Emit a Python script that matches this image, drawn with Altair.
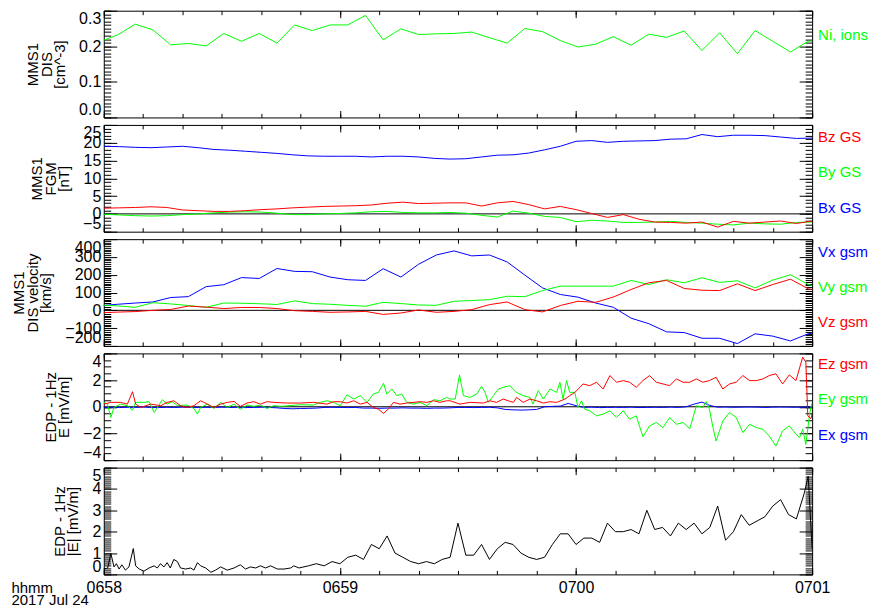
import altair as alt
import pandas as pd

# ---------------- data (seconds after 06:58:00 UT, 2017 Jul 24) ----------------
X_DOMAIN = [0, 180]
X_TICK_SECONDS = [0, 60, 120, 180]
X_TICK_LABELS = ["0658", "0659", "0700", "0701"]
X_TITLE = ["hhmm", "2017 Jul 24"]

# FPI / DIS (4.5 s cadence)
T_FPI = [-1.0, 3.5, 8.0, 12.5, 17.0, 21.5, 26.0, 30.5, 35.0, 39.5, 44.0, 48.5, 53.0, 57.5,
         62.0, 66.5, 71.0, 75.5, 80.0, 84.5, 89.0, 93.5, 98.0, 102.5, 107.0, 111.5, 116.0,
         120.5, 125.0, 129.5, 134.0, 138.5, 143.0, 147.5, 152.0, 156.5, 161.0, 165.5, 170.0,
         174.5, 179.0, 183.5]
NI = [0.213, 0.232, 0.262, 0.246, 0.204, 0.208, 0.201, 0.236, 0.214, 0.236, 0.209, 0.260,
      0.244, 0.260, 0.260, 0.287, 0.218, 0.249, 0.233, 0.235, 0.236, 0.240, 0.224, 0.209,
      0.250, 0.241, 0.216, 0.198, 0.206, 0.227, 0.203, 0.234, 0.225, 0.243, 0.188, 0.238,
      0.179, 0.244, 0.214, 0.184, 0.214, 0.216]
VX = [26, 34, 41, 47, 72, 77, 133, 144, 184, 179, 235, 219, 217, 187, 172, 168, 234, 187,
      259, 311, 334, 306, 311, 272, 198, 126, 89, 74, 41, 17, -44, -75, -121, -125, -157,
      -157, -187, -132, -145, -172, -132, -115]
VY = [30, 25, 17, 43, 36, 27, 17, 41, 40, 37, 33, 53, 38, 34, 28, 23, 45, 38, 30, 28, 51,
      55, 60, 79, 77, 111, 136, 136, 136, 136, 168, 145, 172, 155, 183, 157, 166, 126, 170,
      200, 145, 120]
VZ = [-14, -10, -7, 0, 5, 24, 18, 10, 16, 16, 10, -2, -6, -11, -9, -6, -23, -15, 2, -11,
      -6, 4, 32, 47, 4, -9, 27, 51, 45, 75, 117, 155, 168, 123, 113, 111, 149, 111, 145,
      175, 121, 105]

# FGM
T_FGM = [0, 4, 8, 12, 16, 20, 24, 28, 32, 36, 40, 44, 48, 52, 56, 60, 64, 68, 72, 76, 80,
         84, 88, 92, 96, 100, 104, 108, 112, 116, 120, 124, 128, 132, 136, 140, 144, 148,
         152, 156, 160, 164, 168, 172, 176, 180]
BX = [19.0, 18.9, 18.7, 18.6, 18.8, 19.0, 18.6, 18.1, 17.9, 17.6, 17.3, 17.0, 16.6, 16.3,
      16.2, 16.2, 16.2, 16.0, 16.2, 16.2, 16.0, 15.6, 15.4, 15.5, 16.0, 16.5, 16.6, 17.1,
      18.0, 19.0, 20.4, 20.6, 20.1, 20.4, 20.5, 20.6, 21.0, 21.1, 22.3, 21.7, 22.1, 22.1,
      22.0, 21.6, 21.2, 21.3]
BY = [-0.1, -0.3, -0.5, -0.6, -0.5, -0.2, 0.0, 0.3, 0.5, 0.6, 0.5, 0.2, -0.2, -0.2, 0.0,
      0.1, 0.3, 0.6, 0.7, 0.4, 0.3, 0.3, 0.4, 0.2, -0.4, -0.9, 0.8, 0.2, -0.7, -1.0, -2.2,
      -1.8, -2.0, -2.4, -2.4, -2.3, -2.1, -2.4, -2.6, -2.9, -3.1, -2.6, -2.8, -2.9, -2.4,
      -2.3]
BZ = [1.6, 1.7, 1.8, 2.0, 1.8, 1.1, 0.9, 0.7, 0.7, 0.9, 1.2, 1.4, 1.7, 1.9, 2.1, 2.2, 2.3,
      2.5, 3.0, 3.3, 2.9, 3.0, 3.1, 3.1, 2.2, 3.1, 3.5, 2.6, 1.4, 2.1, 1.2, 0.1, -1.0, -0.2,
      -1.5, -2.3, -2.4, -2.6, -2.3, -3.7, -2.1, -2.6, -2.3, -2.0, -2.7, -2.0]

# EDP electric field
T_EY = [0.1, 0.9, 1.8, 2.6, 4.3, 6.0, 7.3, 8.1, 10.2, 11.5, 12.8, 14.9, 16.1, 17.4, 18.7,
        21.2, 22.9, 23.8, 24.6, 26.3, 28.0, 29.7, 31.4, 33.1, 34.7, 36.4, 38.1, 39.8, 41.5,
        43.2, 44.9, 50.0, 53.3, 55.0, 56.7, 58.4, 60.1, 61.8, 63.5, 65.2, 66.9, 68.5, 69.8,
        71.1, 71.9, 73.2, 74.5, 75.7, 77.0, 78.7, 80.4, 82.1, 83.8, 85.4, 87.1, 88.0,
        89.3, 90.4, 91.4, 93.1, 94.8, 96.0, 96.9, 97.7, 99.0, 100.3, 101.5, 103.2, 104.9,
        106.6, 108.3, 109.1, 110.4, 111.7, 113.4, 115.1, 115.9, 116.7, 117.6, 118.4, 119.7,
        120.5, 121.4, 122.2, 123.5, 125.2, 126.9, 128.6, 130.3, 132.0, 133.6, 135.3, 137.0,
        138.7, 140.4, 142.1, 143.8, 145.5, 147.2, 148.9, 150.6, 152.2, 153.1, 153.9, 154.8,
        155.6, 157.3, 159.0, 160.7, 162.4, 164.1, 165.8, 167.5, 169.1, 170.8, 172.5, 174.2,
        175.9, 176.8, 177.6, 178.4, 179.3, 179.7, 180.0]
EY = [0.33, 0.2, -0.8, -0.05, 0.2, 0.08, -0.25, 0.33, 0.33, 0.38, -0.43, 0.53, 0.2, 0.38,
      0.08, 0.13, -0.13, -0.55, -0.05, 0.2, -0.13, 0.33, -0.05, 0.2, -0.18, 0.13, 0.03,
      0.13, -0.13, 0.08, 0.03, 0.15, 0.13, 0.33, 0.45, 0.33, 0.08, 0.9, 0.58, 0.83, 0.33,
      0.96, 1.08, 1.76, 0.96, 1.33, 0.83, 0.96, 0.33, 0.2, 0.33, 0.08, 0.53, 0.45, 0.7, 0.58,
      0.58, 2.39, 0.83, 0.7, 0.96, 1.53, 1.08, 0.33, 0.83, 1.33, 1.46, 1.58, 1.08, 0.83, 0.7,
      0.2, 1.21, 0.58, 1.33, 1.08, 1.84, 0.58, 1.96, 1.08, 1.08, -0.05, 0.45, -0.18, -0.3,
      -0.68, -0.55, -0.3, -0.8, -0.3, -0.93, -0.68, -2.24, -1.43, -1.18, -1.56, -0.8, -1.31,
      -1.18, -1.64, 0.08, -0.05, 0.38, -0.18, -1.56, -2.57, -1.06, -0.43, -0.8, -1.94, -1.31,
      -1.56, -1.69, -2.19, -2.94, -1.81, -1.43, -2.06, -2.31, -1.69, -2.82, -0.68, -0.05,
      0.3]
T_EZ = [0.1, 1.8, 4.3, 6.0, 7.3, 8.1, 9.4, 11.9, 14.5, 16.1, 17.8, 19.5, 21.2, 22.9, 24.6,
        26.3, 28.0, 29.7, 31.4, 33.1, 34.7, 36.4, 38.1, 39.8, 41.5, 43.2, 46.6, 50.0, 53.3,
        56.7, 58.4, 60.1, 61.8, 63.5, 65.2, 66.9, 68.5, 69.8, 71.1, 72.4, 73.6, 75.3, 77.0,
        80.4, 82.1, 83.8, 85.4, 87.1,
        88.0, 90.5, 93.1, 96.5, 98.1, 99.8, 101.5, 102.8, 104.1, 104.9, 106.6, 108.3, 110.0,
        111.7, 113.4, 115.1, 117.2, 118.4, 119.7, 121.0, 121.8, 123.5, 125.2, 126.9, 128.6,
        130.3, 132.0, 133.6, 135.3, 137.0, 138.7, 140.4, 142.1, 143.8, 145.5, 147.2, 148.9,
        150.6, 152.2, 153.9, 155.6, 157.3, 159.0, 160.7, 162.4, 164.1, 165.8, 167.5, 169.1,
        170.8, 172.5, 174.2, 175.9, 177.6, 178.4, 178.9, 179.7, 180.0]
EZ = [0.2, 0.33, 0.33, 0.2, 1.13, 0.2, -0.05, 0.2, 0.08, 0.33, 0.45, 0.08, -0.05, 0.08,
      0.45, 0.2, -0.05, 0.2, 0.33, 0.4, 0.03, 0.28, 0.38, 0.2, 0.38, 0.33, 0.28, 0.28, 0.33,
      0.2, 0.38, 0.38, 0.28, 0.45, 0.2, 0.33, -0.05, -0.18, -0.5, -0.13, 0.33, 0.2, 0.28,
      0.38, 0.33, 0.45, 0.33, 0.45,
      0.45, 0.2, 0.33, 0.28, 0.45, 0.33, 0.58, 0.45, 0.33, 0.7, 0.33, 0.58, 0.45, 0.28, 0.38,
      0.33, 0.58, 0.83, 1.08, 1.46, 1.71, 1.58, 1.84, 1.33, 2.34, 1.84, 1.96, 1.84, 1.46,
      1.96, 2.34, 1.84, 1.71, 1.58, 2.09, 1.84, 1.84, 2.09, 1.84, 1.96, 2.21, 1.33, 1.71,
      1.84, 2.34, 1.96, 1.96, 2.09, 2.34, 2.47, 1.71, 2.39, 1.96, 3.72, 3.35, -0.68, -0.9,
      -0.5]
T_EX = [0, 2, 4, 6, 8, 10, 12, 14, 16, 18, 20, 22, 24, 26, 28, 30, 32, 34, 36, 38, 40, 42,
        44, 46, 48, 50, 52, 54, 56, 58, 60, 62, 64, 66, 68, 70, 72, 74, 76, 78, 80, 82, 84,
        86, 88, 90, 92, 94, 96, 98, 100, 102, 104, 106, 108, 110, 112, 114, 116, 118, 120,
        122, 124, 126, 128, 130, 132, 134, 136, 138, 140, 142, 144, 146, 148, 150, 152, 154,
        156, 158, 160, 162, 164, 166, 168, 170, 172, 174, 176, 178, 179, 180]
EX = [-0.05, -0.03, -0.06, -0.04, -0.05, -0.02, -0.05, -0.06, -0.04, -0.05, -0.03, -0.05,
      -0.06, -0.04, -0.05, -0.03, -0.05, -0.04, -0.06, -0.05, -0.03, -0.05, -0.08,
      -0.13, -0.15, -0.13, -0.12, -0.1,
      -0.05, -0.04, -0.05, -0.06, -0.05,
      -0.1, -0.1, -0.12, -0.1, -0.1, -0.08, -0.1, -0.1, -0.12, -0.1, -0.1, -0.08,
      -0.05, -0.05, -0.06, -0.05, -0.04, -0.08,
      -0.2, -0.23, -0.25, -0.23, -0.2,
      0.0, 0.03, 0.05,
      0.25, 0.08,
      -0.05, -0.03, -0.06, -0.05, -0.04, -0.05, -0.03, -0.06, -0.05, -0.04, -0.05, -0.03,
      -0.05, 0.0,
      0.2, 0.35, 0.1,
      -0.03, -0.02, -0.04, -0.03, -0.02, -0.03, -0.05, -0.03, -0.02, -0.03, -0.04, -0.03,
      0.0, -0.05]
T_EMAG = [0.0, 1.0, 1.8, 2.6, 3.2, 3.9, 4.6, 5.5, 6.4, 7.5, 8.1, 9.0, 10.2, 11.5, 12.8,
          13.6, 14.4, 15.3, 16.1, 16.9, 17.8, 18.7, 19.5, 20.8, 22.1, 22.9, 23.8, 24.6, 25.9,
          27.2, 28.4, 29.7, 31.4, 33.1, 34.7, 36.0, 37.3, 38.6, 39.8, 41.1, 42.4, 44.1, 45.8,
          47.5, 48.3, 49.6,
          52, 54, 56, 58, 60, 62, 64, 66, 68, 70, 72, 74, 76, 78, 80, 82, 84, 86, 88, 90, 92,
          94, 96, 98, 100, 102, 104, 106, 108, 110, 112, 114, 116, 118, 120, 122, 124, 126,
          128, 130, 132, 134, 136, 138, 140, 142, 144, 146, 148, 150, 152, 154, 156, 158,
          160, 162, 164, 166, 168, 170, 172, 174, 176, 178, 179, 180]
EMAG = [0.25, 0.3, 0.98, 0.35, 0.5, 0.25, 0.45, 0.2, 0.35, 1.21, 0.4, 0.25, 0.15, 0.3, 0.4,
        0.3, 0.5, 0.35, 0.55, 0.3, 0.7, 0.6, 0.3, 0.25, 0.3, 0.2, 0.55, 0.4, 0.3, 0.1, 0.2,
        0.35, 0.2, 0.3, 0.45, 0.25, 0.35, 0.3, 0.4, 0.3, 0.4, 0.25, 0.25, 0.3, 0.4, 0.3,
        0.4, 0.5, 0.4, 0.6,
        0.5, 0.8, 0.9, 0.7, 1.4, 1.2, 1.8, 1.0, 0.8, 0.6,
        0.5, 0.6, 0.5, 0.7, 0.8,
        2.4, 0.9, 0.9, 1.4, 0.7, 1.2, 1.5, 1.4, 1.0, 0.8,
        0.7, 0.8, 1.4, 1.9, 1.9, 1.4, 1.7, 1.7, 1.5, 2.4,
        2.0, 2.0, 2.1, 1.9, 3.0, 2.1, 2.2, 1.8, 2.4, 2.1,
        2.4, 1.9, 2.2, 3.2, 1.6, 2.0, 2.8, 2.3, 2.5, 2.7,
        3.2, 3.5, 2.8, 2.6, 3.8, 4.6, 1.2]

BLUE, GREEN, RED, BLACK = "#0000ff", "#00ff00", "#ff0000", "#000000"

PANELS = [
    dict(title=["MMS1", "DIS", "[cm^-3]"], domain=[0, 0.3], fmt=".1f",
         major=[0, 0.1, 0.2, 0.3], minor=[round(i * 0.01, 2) for i in range(31)],
         zero=False, series=[(T_FPI, NI, GREEN)],
         legend=[("Ni, ions", GREEN)], legend_y=[24]),
    dict(title=["MMS1", "FGM", "[nT]"], domain=[-5, 25], fmt="d",
         major=[-5, 0, 5, 10, 15, 20, 25], minor=list(range(-5, 26)),
         zero=True, series=[(T_FGM, BX, BLUE), (T_FGM, BY, GREEN), (T_FGM, BZ, RED)],
         legend=[("Bz GSM", RED), ("By GSM", GREEN), ("Bx GSM", BLUE)], legend_y=[12, 47.5, 83]),
    dict(title=["MMS1", "DIS velocity", "[km/s]"], domain=[-200, 400], fmt="d",
         major=[-200, -100, 0, 100, 200, 300, 400], minor=list(range(-200, 401, 10)),
         zero=True, series=[(T_FPI, VX, BLUE), (T_FPI, VY, GREEN), (T_FPI, VZ, RED)],
         legend=[("Vx gsm", BLUE), ("Vy gsm", GREEN), ("Vz gsm", RED)], legend_y=[13, 48, 83]),
    dict(title=["EDP - 1Hz", "E [mV/m]"], domain=[-4, 4], fmt="d",
         major=[-4, -2, 0, 2, 4], minor=[i * 0.5 for i in range(-8, 9)],
         zero=True, series=[(T_EX, EX, BLUE), (T_EY, EY, GREEN), (T_EZ, EZ, RED)],
         legend=[("Ez gsm", RED), ("Ey gsm", GREEN), ("Ex gsm", BLUE)], legend_y=[11, 46, 82]),
    dict(title=["EDP - 1Hz", "|E| [mV/m]"], domain=[0, 5], fmt="d",
         major=[0, 1, 2, 3, 4, 5], minor=[round(i * 0.1, 1) for i in range(51)],
         zero=False, series=[(T_EMAG, EMAG, BLACK)],
         legend=[], legend_y=[]),
]

# ---------------- layout / style ----------------
W, H = 710, 107
FONT = "Liberation Sans"
LEGEND_DX = 6
LEGEND_LIMIT = 50.5
X_MINOR = list(range(0, 181, 10))
LABEL_EXPR = ("[" + ",".join(f"'{s}'" for s in X_TICK_LABELS) + "][indexof(["
              + ",".join(str(v) for v in X_TICK_SECONDS) + "], datum.value)]")


def xs():
    return alt.Scale(domain=X_DOMAIN, nice=False, zero=False)


def ys(dom):
    return alt.Scale(domain=dom, nice=False, zero=False)


def tick_axis(orient, values, size, offset):
    return alt.Axis(orient=orient, offset=offset, values=values, ticks=True, tickSize=size,
                    tickColor="black", tickWidth=1, labels=False, domain=False, grid=False,
                    title=None)


def panel(cfg, bottom=False):
    dom = cfg["domain"]
    layers = []
    if cfg["zero"]:
        layers.append(alt.Chart(pd.DataFrame({"v": [0.0]})).mark_rule(
            color="black", strokeWidth=1).encode(y=alt.Y("v:Q", scale=ys(dom), axis=None)))
    for t, v, c in cfg["series"]:
        df = pd.DataFrame({"t": t, "v": v})
        layers.append(alt.Chart(df).mark_line(color=c, strokeWidth=1, clip=True).encode(
            x=alt.X("t:Q", scale=xs(), axis=None),
            y=alt.Y("v:Q", scale=ys(dom), axis=None)))

    y_label = alt.Axis(orient="left", values=cfg["major"], format=cfg["fmt"], ticks=False,
                       tickSize=0, domain=False, grid=False, labels=True, labelFlush=True,
                       labelOverlap=False, labelPadding=3, labelFont=FONT, labelFontSize=16,
                       labelColor="black", title=cfg["title"], titleFont=FONT,
                       titleFontSize=15, titleFontWeight="normal", titleColor="black",
                       titlePadding=11, titleLineHeight=13.5)
    if bottom:
        x_label = alt.Axis(orient="bottom", values=X_TICK_SECONDS, labelExpr=LABEL_EXPR,
                           ticks=False, tickSize=0, domain=False, grid=False, labelFlush=False,
                           labelOverlap=False, labelPadding=5, labelFont=FONT,
                           labelFontSize=16, labelColor="black", title=X_TITLE,
                           titleFont=FONT, titleFontSize=15, titleFontWeight="normal",
                           titleColor="black", titleX=-93, titleY=18, titleAlign="left",
                           titleAngle=0, titleBaseline="alphabetic", titleLineHeight=12.5)
    else:
        x_label = None

    pairs = [
        (tick_axis("bottom", X_MINOR, 4, -H), tick_axis("right", cfg["major"], 13, -W)),
        (tick_axis("bottom", X_TICK_SECONDS, 7, -H), tick_axis("right", cfg["minor"], 7, -W)),
        (tick_axis("top", X_MINOR, 4, -H), tick_axis("left", cfg["major"], 13, -W)),
        (tick_axis("top", X_TICK_SECONDS, 7, -H), tick_axis("left", cfg["minor"], 7, -W)),
        (x_label, y_label),
    ]
    carrier_df = pd.DataFrame({"t": [X_DOMAIN[0], X_DOMAIN[1]], "v": [dom[0], dom[1]]})
    for xa, ya in pairs:
        layers.append(alt.Chart(carrier_df).mark_point(
            opacity=0, size=0, strokeWidth=0, filled=True).encode(
            x=alt.X("t:Q", scale=xs(), axis=xa),
            y=alt.Y("v:Q", scale=ys(dom), axis=ya)))

    for (txt, col), yoff in zip(cfg["legend"], cfg["legend_y"]):
        layers.append(alt.Chart(pd.DataFrame({"label": [txt]})).mark_text(
            align="left", baseline="middle", font=FONT, fontSize=15, color=col,
            limit=LEGEND_LIMIT, ellipsis="\u200b").encode(
            x=alt.value(W + LEGEND_DX), y=alt.value(yoff), text="label:N"))

    return (alt.layer(*layers)
            .resolve_scale(x="shared", y="shared")
            .resolve_axis(x="independent", y="independent")
            .properties(width=W, height=H))


panels = [panel(c, bottom=(i == len(PANELS) - 1)) for i, c in enumerate(PANELS)]

chart = (alt.vconcat(*panels, spacing=5.5)
         .properties(padding={"left": 2, "top": 1, "right": 0, "bottom": 0})
         .configure_view(stroke="black", strokeWidth=1)
         .configure_axis(grid=False))

chart.save("out.html", embed_options={"renderer": "svg", "actions": False})
